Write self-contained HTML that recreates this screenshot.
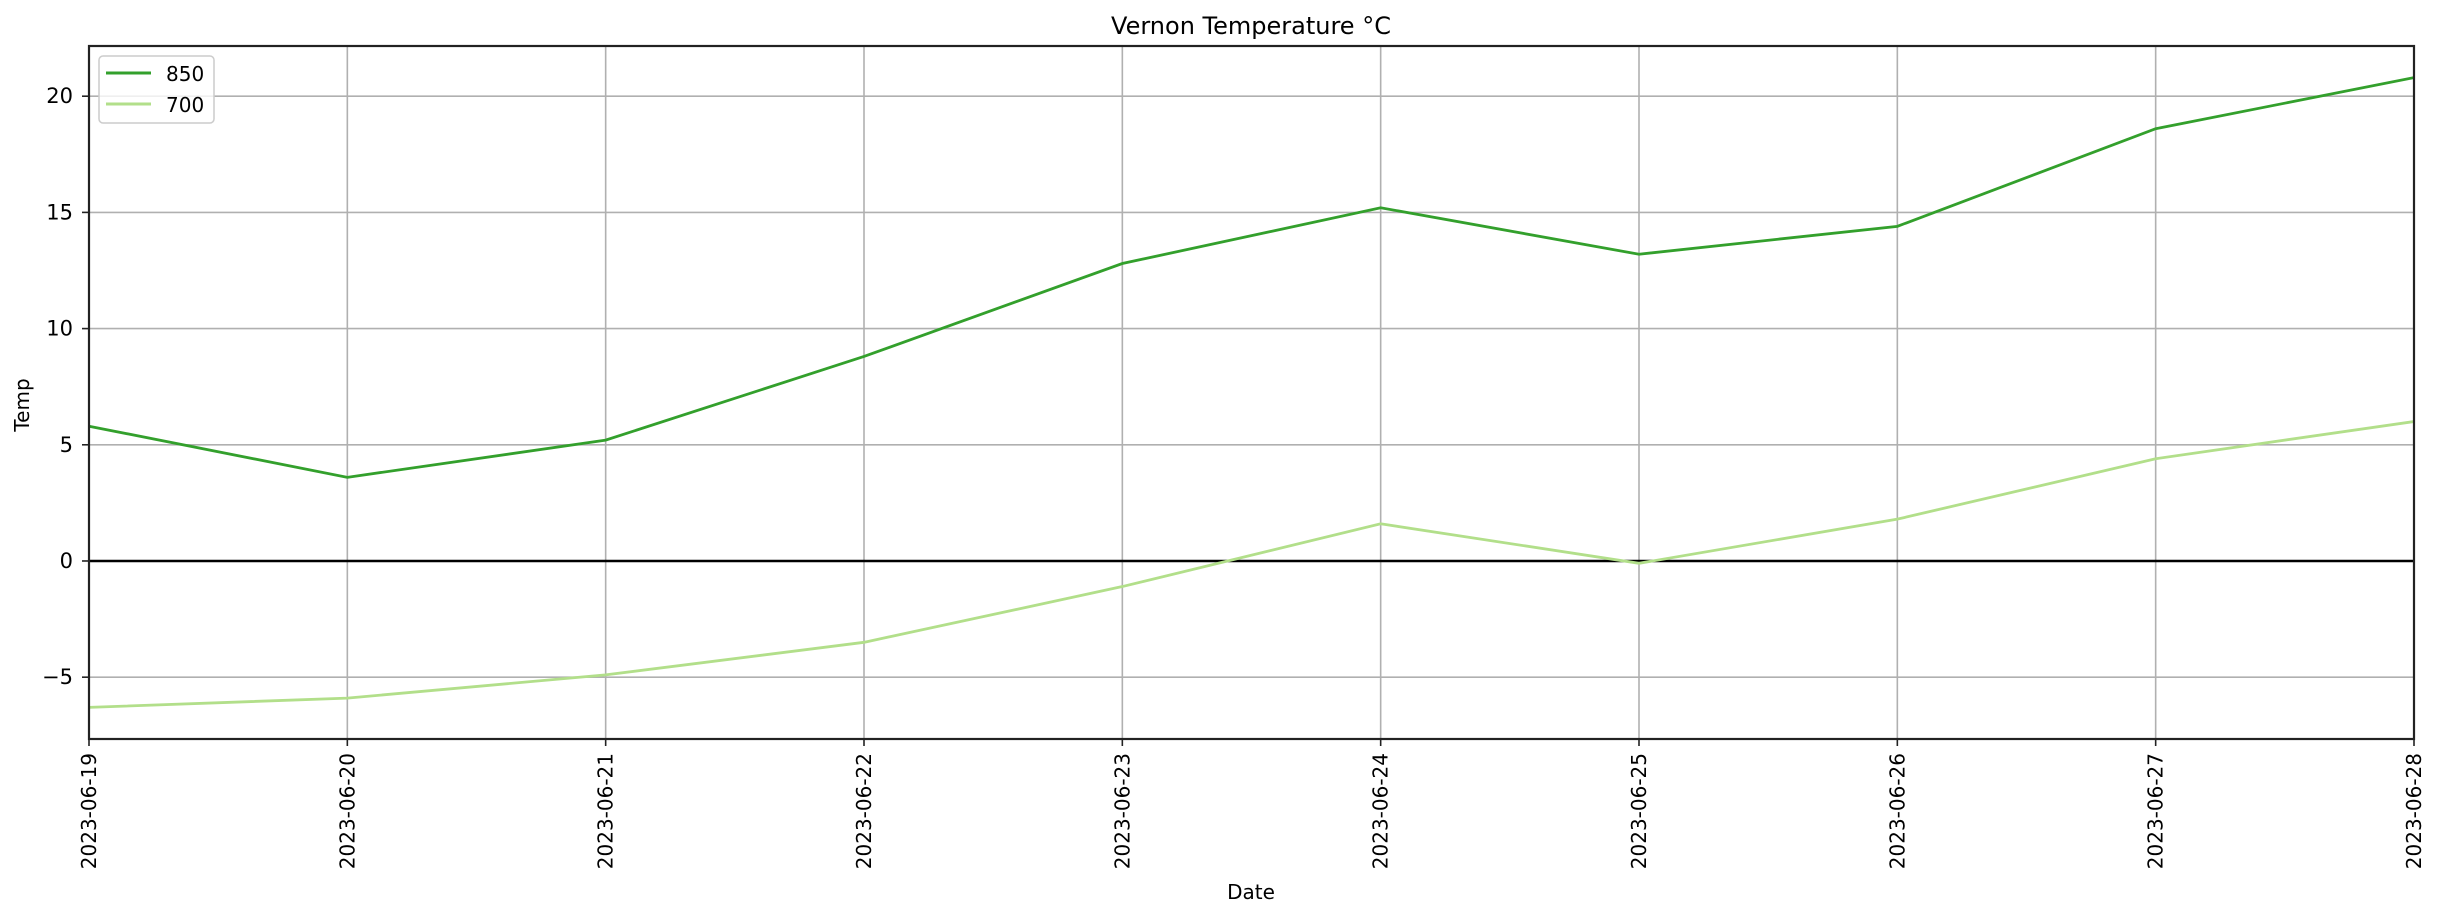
<!DOCTYPE html>
<html><head><meta charset="utf-8"><style>
body{margin:0;background:#fff}
svg text{font-family:"DejaVu Sans","Liberation Sans",sans-serif;fill:#000}
</style></head><body>
<svg id="chart" width="2438" height="918" xmlns="http://www.w3.org/2000/svg">
<text x="1251" y="34" font-size="24" text-anchor="middle">Vernon Temperature °C</text>
<g id="grid"></g>
<g id="marks"></g>
<rect x="89" y="46" width="2325" height="693" fill="none" stroke="#222" stroke-width="2.2"/>
<g id="ticks"></g>
<text transform="translate(29,405) rotate(-90)" font-size="20" text-anchor="middle">Temp</text>
<text x="1251" y="899" font-size="20" text-anchor="middle">Date</text>
<g>
<rect x="99" y="56" width="115" height="67" rx="4" fill="#fff" fill-opacity="0.8" stroke="#ccc" stroke-width="1.5"/>
<line x1="106" y1="73" x2="151" y2="73" stroke="#33a02c" stroke-width="3"/>
<text x="166" y="81" font-size="20">850</text>
<line x1="106" y1="104" x2="151" y2="104" stroke="#b2df8a" stroke-width="3"/>
<text x="166" y="112" font-size="20">700</text>
</g>
</svg>
<script>
const dates=["2023-06-19","2023-06-20","2023-06-21","2023-06-22","2023-06-23","2023-06-24","2023-06-25","2023-06-26","2023-06-27","2023-06-28"];
const t850=[5.8,3.6,5.2,8.8,12.8,15.2,13.2,14.4,18.6,20.8];
const t700=[-6.3,-5.9,-4.9,-3.5,-1.1,1.6,-0.1,1.8,4.4,6.0];
const yTicks=[-5,0,5,10,15,20];
const yTickLabels=["−5","0","5","10","15","20"];
const NS="http://www.w3.org/2000/svg";
const L=89,R=2414,T=46,B=739,yMin=-7.66,yMax=22.16;
function xs(i){return L+(R-L)*i/(dates.length-1);}
function ys(v){return B-(v-yMin)/(yMax-yMin)*(B-T);}
function mk(tag,attrs,parent){const e=document.createElementNS(NS,tag);for(const k in attrs)e.setAttribute(k,attrs[k]);document.getElementById(parent).appendChild(e);return e;}
dates.forEach((d,i)=>{
  const g=mk('line',{x1:xs(i),x2:xs(i),y1:T,y2:B,stroke:'#b0b0b0','stroke-width':1.6},'grid');
  
  
  const tk=mk('line',{x1:xs(i),x2:xs(i),y1:B,y2:B+7,stroke:'#222','stroke-width':1.6},'ticks');
  
  
  const t=mk('text',{transform:`translate(${xs(i)+7},${B+14}) rotate(-90)`,'font-size':20,'text-anchor':'end'},'ticks');
  t.textContent=d;
  
  
});
yTicks.forEach((v,i)=>{
  const g=mk('line',{x1:L,x2:R,y1:ys(v),y2:ys(v),stroke:'#b0b0b0','stroke-width':1.6},'grid');
  
  
  const tk=mk('line',{x1:L-7,x2:L,y1:ys(v),y2:ys(v),stroke:'#222','stroke-width':1.6},'ticks');
  
  
  const t=mk('text',{x:L-16,y:ys(v)+7,'font-size':21,'text-anchor':'end'},'ticks');
  t.textContent=yTickLabels[i];
  
  
});
const z=mk('line',{x1:L,x2:R,y1:ys(0),y2:ys(0),stroke:'#000','stroke-width':2.5},'marks');


const l8=mk('polyline',{points:t850.map((v,i)=>xs(i)+','+ys(v)).join(' '),fill:'none',stroke:'#33a02c','stroke-width':2.8},'marks');


const l7=mk('polyline',{points:t700.map((v,i)=>xs(i)+','+ys(v)).join(' '),fill:'none',stroke:'#b2df8a','stroke-width':2.8},'marks');


</script>
</body></html>
